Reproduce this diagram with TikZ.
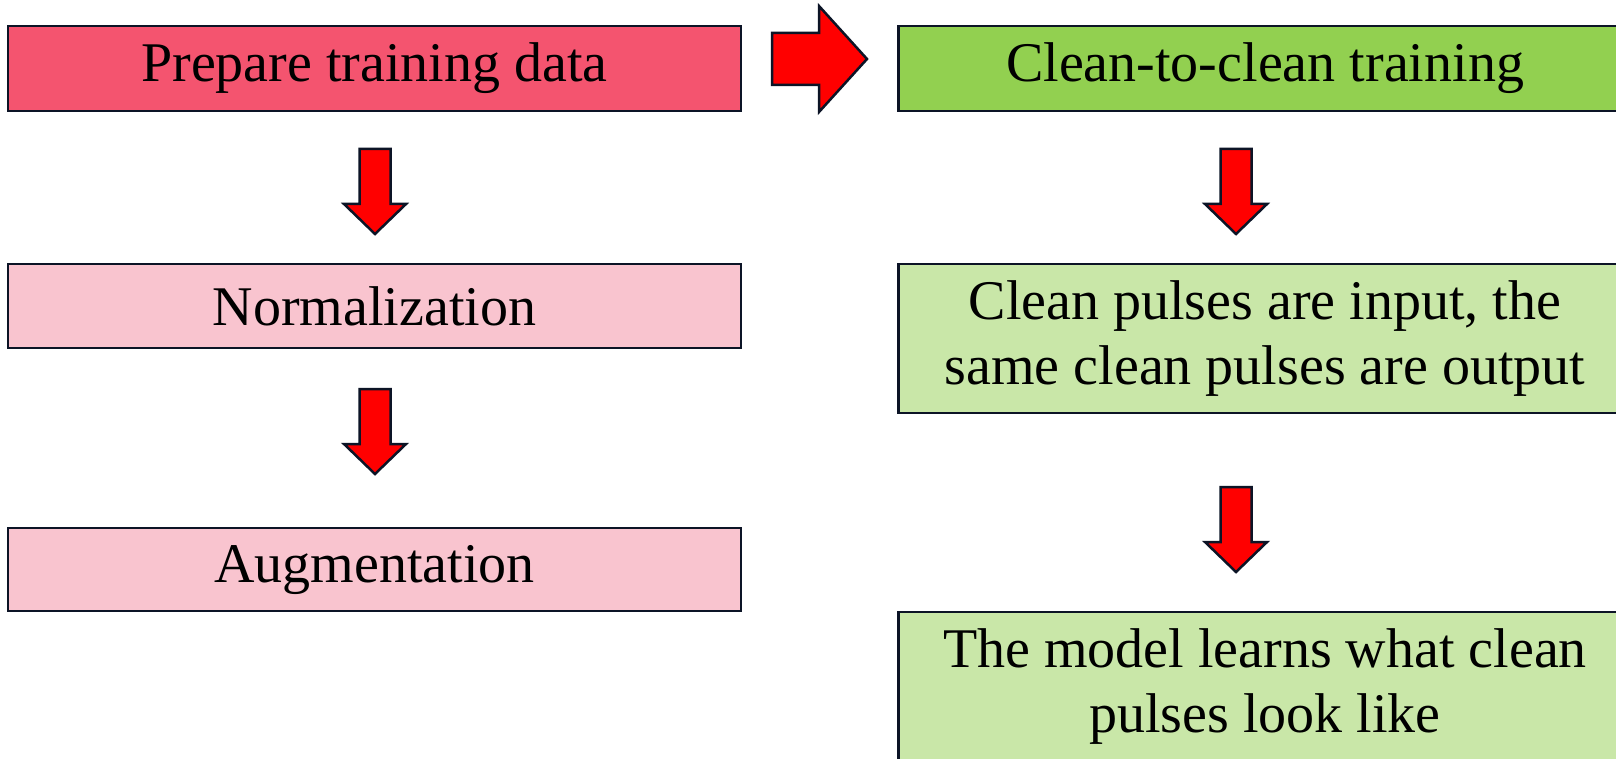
\documentclass[tikz,border=0pt]{standalone}
\usepackage{fontspec}
\setmainfont{Liberation Serif}
\definecolor{edge}{HTML}{0C1426}
\definecolor{darkpink}{HTML}{F4546F}
\definecolor{lightpink}{HTML}{F9C4CF}
\definecolor{darkgreen}{HTML}{92D050}
\definecolor{lightgreen}{HTML}{C9E7A8}
\definecolor{arrowred}{HTML}{FF0000}
\tikzset{
  box/.style={draw=edge, line width=2.5pt, rectangle, inner sep=0pt, align=center,
    minimum width=733pt, font=\fontsize{56}{65}\selectfont, text=black},
  pinkA/.style={box, fill=darkpink},
  pinkB/.style={box, fill=lightpink},
  greenA/.style={box, fill=darkgreen},
  greenB/.style={box, fill=lightgreen},
  blockarrow/.style={draw=edge, fill=arrowred, line width=2.5pt, miter limit=10}
}
\newcommand\downblock[2]{%
  \draw[blockarrow] (#1-15.5,#2) -- (#1+15.5,#2) -- (#1+15.5,#2+55) -- (#1+31,#2+55)
    -- (#1,#2+85) -- (#1-31,#2+55) -- (#1-15.5,#2+55) -- cycle;}
\begin{document}
\begin{tikzpicture}[x=1pt,y=-1pt]
\clip (0,0) rectangle (1616,759);
\fill[white] (0,0) rectangle (1616,759);
% left column
\node[pinkA, minimum height=85pt] (prep) at (374.5,68.5) {Prepare training data};
\node[pinkB, minimum height=84pt] (norm) at (374.5,306) {Normalization};
\node[pinkB, minimum height=83pt] (aug) at (374.5,569.5) {Augmentation};
% right column
\node[greenA, minimum height=85pt] (c2c) at (1265,68.5) {Clean-to-clean training};
\node[greenB, minimum height=149pt] (pulses) at (1265,338.5) {Clean pulses are input, the\\same clean pulses are output};
\node[greenB, minimum height=149pt] (model) at (1265,686.5) {The model learns what clean\\pulses look like};
% block arrows
\draw[blockarrow] (772,33) -- (819,33) -- (819,6) -- (867,59) -- (819,112) -- (819,85) -- (772,85) -- cycle;
\downblock{375}{149}
\downblock{375}{389}
\downblock{1236}{149}
\downblock{1236}{487}
\end{tikzpicture}
\end{document}
